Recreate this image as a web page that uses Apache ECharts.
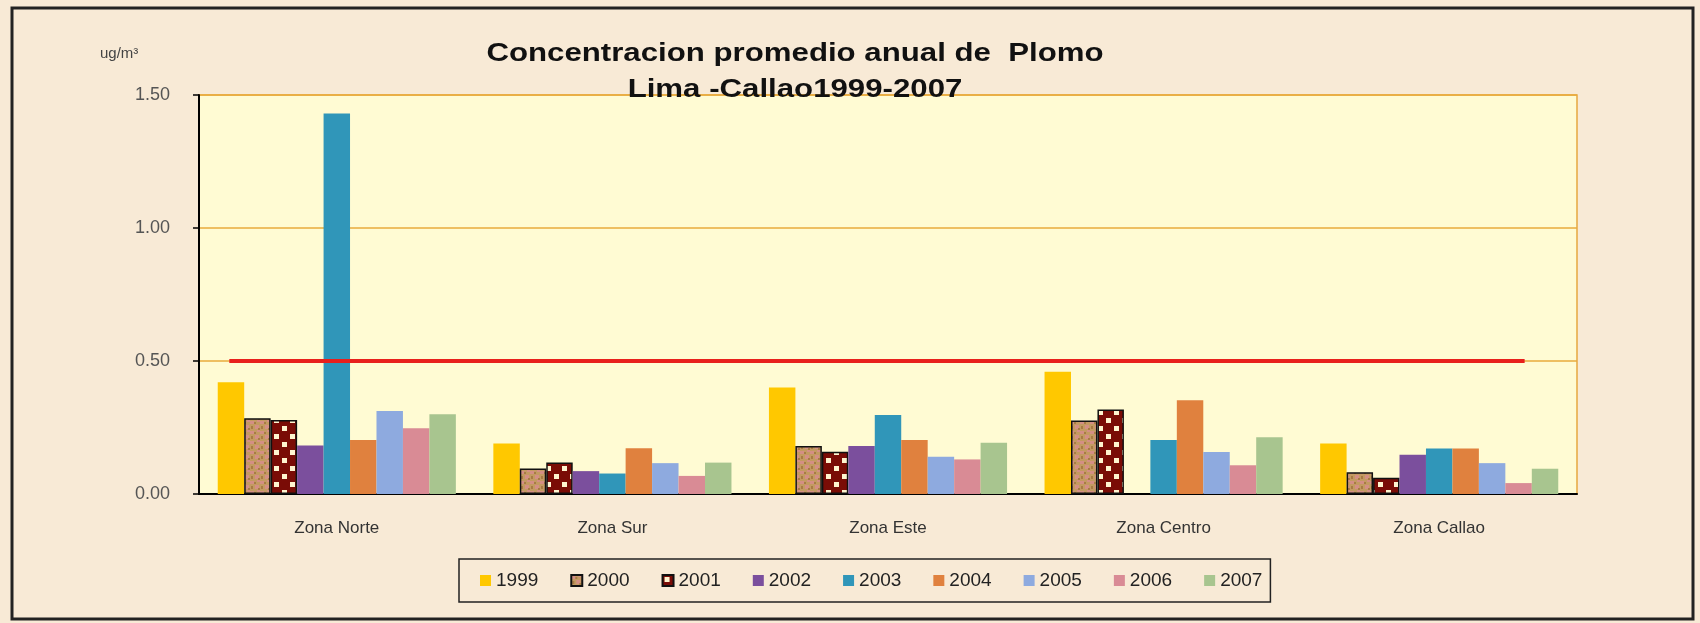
<!DOCTYPE html>
<html>
<head>
<meta charset="utf-8">
<title>Concentracion promedio anual de Plomo</title>
<script src="https://cdn.jsdelivr.net/npm/echarts@6/dist/echarts.min.js"></script>
<style>
  html, body { margin: 0; padding: 0; background: #f8ead6; }
  #chart { width: 1700px; height: 623px; }
</style>
</head>
<body>
<div id="chart"></div>
<script>
// ---- datos (ug/m3) ----
const zonas = ['Zona Norte', 'Zona Sur', 'Zona Este', 'Zona Centro', 'Zona Callao'];
const years = ['1999', '2000', '2001', '2002', '2003', '2004', '2005', '2006', '2007'];
const v1999 = [0.42, 0.19, 0.40, 0.46, 0.19];
const v2000 = [0.285, 0.096, 0.18, 0.276, 0.082];
const v2001 = [0.278, 0.118, 0.159, 0.318, 0.061];
const v2002 = [0.182, 0.086, 0.18, null, 0.148];
const v2003 = [1.43, 0.077, 0.297, 0.203, 0.171];
const v2004 = [0.203, 0.172, 0.203, 0.352, 0.171];
const v2005 = [0.312, 0.116, 0.14, 0.158, 0.116];
const v2006 = [0.247, 0.068, 0.13, 0.108, 0.041];
const v2007 = [0.30, 0.118, 0.193, 0.213, 0.095];
const yTicks = [0, 0.5, 1.0, 1.5];
// limite (linea roja), x en unidades de categoria
const limitX = [0.11, 4.81];
const limitY = [0.5, 0.5];

const FONT = '"Liberation Sans", Arial, sans-serif';

// patron moteado para 2000
function mottledPattern() {
  const c = document.createElement('canvas');
  c.width = 10; c.height = 10;
  const g = c.getContext('2d');
  g.fillStyle = '#c49a62'; g.fillRect(0, 0, 10, 10);
  g.fillStyle = '#d48f84'; g.fillRect(0, 1, 4, 3); g.fillRect(5, 5, 4, 4); g.fillRect(7, 0, 3, 2);
  g.fillStyle = '#a87c44'; g.fillRect(4, 2, 2, 2); g.fillRect(1, 6, 2, 3); g.fillRect(8, 8, 2, 2);
  return c;
}
// patron de cuadritos para 2001
function dotPattern() {
  const c = document.createElement('canvas');
  c.width = 16; c.height = 16;
  const g = c.getContext('2d');
  g.fillStyle = '#7a0c06'; g.fillRect(0, 0, 16, 16);
  g.fillStyle = '#fff4cf'; g.fillRect(2, 2, 5, 5); g.fillRect(10, 10, 5, 5);
  return c;
}

const values = [v1999, v2000, v2001, v2002, v2003, v2004, v2005, v2006, v2007];
const styles = [
  { color: '#ffc800' },
  { color: { image: mottledPattern(), repeat: 'repeat' }, borderColor: '#111', borderWidth: 1.5 },
  { color: { image: dotPattern(), repeat: 'repeat' }, borderColor: '#111', borderWidth: 1.5 },
  { color: '#7b4f9d' },
  { color: '#3096b9' },
  { color: '#e0813e' },
  { color: '#8eaadf' },
  { color: '#d98b95' },
  { color: '#a8c58f' }
];

const barSeries = years.map((y, i) => ({
  name: y,
  type: 'bar',
  data: values[i],
  barGap: '0%',
  barCategoryGap: '13.6%',
  itemStyle: styles[i]
}));

const chart = echarts.init(document.getElementById('chart'));
chart.setOption({
  animation: false,
  backgroundColor: '#f8ead6',
  textStyle: { fontFamily: FONT },
  grid: {
    left: 199, right: 123, top: 95, bottom: 129,
    show: true, backgroundColor: '#fffbd3',
    borderColor: '#e6a840', borderWidth: 1.5
  },
  legend: {
    data: years,
    left: 459, top: 559,
    padding: [12, 8, 12, 21],
    itemWidth: 11, itemHeight: 11, itemGap: 32,
    icon: 'rect',
    borderColor: '#222', borderWidth: 1.5,
    textStyle: { fontSize: 19, color: '#222', fontFamily: FONT }
  },
  xAxis: [
    {
      type: 'category',
      data: zonas,
      axisLine: { lineStyle: { color: '#000', width: 2 } },
      axisTick: { length: 6, lineStyle: { color: '#000', width: 1.5 } },
      axisLabel: { fontSize: 17, color: '#333', margin: 26, fontFamily: FONT }
    },
    { type: 'value', min: 0, max: 5, show: false }
  ],
  yAxis: {
    type: 'value',
    min: yTicks[0], max: yTicks[yTicks.length - 1], interval: 0.5,
    axisLine: { show: true, lineStyle: { color: '#000', width: 2 } },
    axisTick: { show: true, length: 6, lineStyle: { color: '#000', width: 1.5 } },
    axisLabel: { fontSize: 18, color: '#555', margin: 29, fontFamily: FONT, formatter: v => v.toFixed(2) },
    splitLine: { lineStyle: { color: '#e8ab3c', width: 1.5 } }
  },
  series: barSeries.concat([{
    name: 'limite',
    type: 'line',
    xAxisIndex: 1,
    data: limitX.map((x, i) => [x, limitY[i]]),
    symbol: 'none',
    silent: true,
    z: 5,
    lineStyle: { color: '#e8201c', width: 4 }
  }]),
  graphic: [
    { type: 'rect', shape: { x: 12, y: 8, width: 1681, height: 611 },
      style: { fill: 'none', stroke: '#222', lineWidth: 3 }, silent: true },
    { type: 'text', x: 795, y: 54, scaleX: 1.2, z: 10,
      style: { x: 0, y: 0, text: 'Concentracion promedio anual de  Plomo', textAlign: 'center', textVerticalAlign: 'middle',
               font: 'bold 26px ' + FONT, fill: '#111' } },
    { type: 'text', x: 795, y: 90, scaleX: 1.2, z: 10,
      style: { x: 0, y: 0, text: 'Lima -Callao1999-2007', textAlign: 'center', textVerticalAlign: 'middle',
               font: 'bold 26px ' + FONT, fill: '#111' } },
    { type: 'text', x: 100, y: 54,
      style: { x: 0, y: 0, text: 'ug/m³', textVerticalAlign: 'middle', font: '15px ' + FONT, fill: '#444' } }
  ]
});
</script>
</body>
</html>
